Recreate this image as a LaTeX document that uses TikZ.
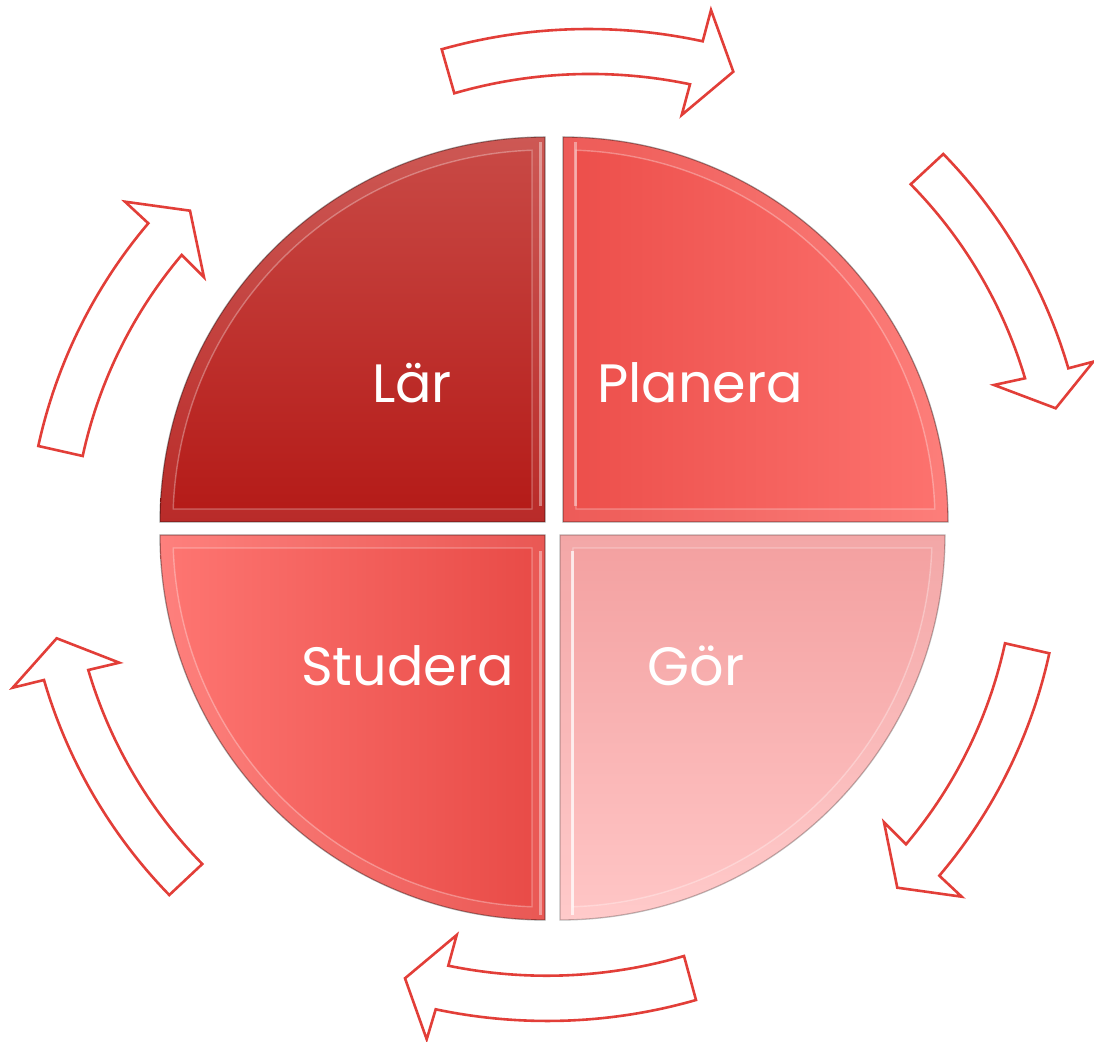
\documentclass[tikz,border=0pt]{standalone}
\usepackage{fontspec}
\setmainfont{Poppins}
\usetikzlibrary{calc}

\definecolor{arrowred}{RGB}{226,62,56}

% A quarter disc of radius 385 with a bevelled rim (inset 13).
% #1 centre, #2/#3 arc angles, #4 inset corner offset, #5 shading, #6 rim style
\newcommand\quarterdisc[6]{%
  \path[#5] (#1) -- ($(#1)+({#2}:385)$) arc[start angle=#2,end angle=#3,radius=385] -- cycle;
  \fill[white, fill opacity=.08, even odd rule]
     (#1) -- ($(#1)+({#2}:385)$) arc[start angle=#2,end angle=#3,radius=385] -- cycle
     ($(#1)+#4$) -- ($(#1)+({#2-2}:372)$) arc[start angle=#2-2,end angle=#3+2,radius=372] -- cycle;
  \draw[white, draw opacity=.3, line width=1.4pt]
     ($(#1)+#4$) -- ($(#1)+({#2-2}:372)$) arc[start angle=#2-2,end angle=#3+2,radius=372] -- cycle;
  \draw[#6]
     (#1) -- ($(#1)+({#2}:385)$) arc[start angle=#2,end angle=#3,radius=385] -- cycle;
}

% A curved block arrow: tail outer, shaft outer end, outer barb, tip,
% inner barb, shaft inner end, tail inner.  Both long sides are arcs
% bulging away from the disc.
\newcommand\cyclearrow[7]{%
  \draw[cyclearrow] #1 .. controls ($#1!.338!14:#2$) and ($#2!.338!-14:#1$) .. #2
    -- #3 -- #4 -- #5 -- #6
    .. controls ($#6!.338!-14:#7$) and ($#7!.338!14:#6$) .. #7 -- cycle;}

\begin{document}
\begin{tikzpicture}[x=1pt,y=1pt,
  cyclearrow/.style={draw=arrowred, fill=white, line width=2.6pt, line join=miter},
  quadtext/.style={text=white, font=\fontsize{54}{60}\selectfont, anchor=base, inner sep=0pt},
  rim/.style={draw=black, draw opacity=.35, line width=1.3pt},
  streak/.style={white, draw opacity=.4, line width=3pt},
]
\useasboundingbox (0,0) rectangle (1094,1041);

\coordinate (cTL) at (545,519);
\coordinate (cTR) at (563,519);
\coordinate (cBL) at (545,506);
\coordinate (cBR) at (560,506);

% the four quarters of the disc
\quarterdisc{cTL}{180}{90}{(-13,13)}
  {top color={rgb,255:red,201;green,74;blue,70}, middle color={rgb,255:red,198;green,42;blue,38}, bottom color={rgb,255:red,180;green,26;blue,23}}{rim}
\quarterdisc{cTR}{90}{0}{(13,13)}
  {left color={rgb,255:red,236;green,78;blue,74}, right color={rgb,255:red,253;green,115;blue,111}}{rim}
\quarterdisc{cBL}{-90}{-180}{(-13,-13)}
  {left color={rgb,255:red,254;green,118;blue,114}, right color={rgb,255:red,232;green,74;blue,70}}{rim}
\quarterdisc{cBR}{0}{-90}{(13,-13)}
  {top color={rgb,255:red,243;green,160;blue,160}, middle color={rgb,255:red,250;green,178;blue,178}, bottom color={rgb,255:red,255;green,198;blue,198}}{rim, draw opacity=.25}

% highlights along the straight inner edges
\draw[streak] ($(cTL)+(-5,16)$) -- ($(cTL)+(-5,380)$);
\draw[streak] ($(cTR)+(12,16)$) -- ($(cTR)+(12,380)$);
\draw[streak] ($(cBL)+(-5,-16)$) -- ($(cBL)+(-5,-380)$);
\draw[streak, draw opacity=.7] ($(cBR)+(12,-16)$) -- ($(cBR)+(12,-380)$);

% labels
\node[quadtext] (lar) at (412,638) {Lär};
\node[quadtext] (planera) at (700,638) {Planera};
\node[quadtext] (studera) at (407.5,355) {Studera};
\node[quadtext] (gor) at (696,355) {Gör};

% the six arrows running clockwise round the disc
\cyclearrow{(441.7,991.7)}{(702.7,999.7)}{(711,1031)}{(733.3,969.3)}{(681.7,926)}{(690,956.7)}{(454.3,947.7)}
\cyclearrow{(943.3,887)}{(1068.3,672.7)}{(1093.3,679.3)}{(1055.7,632.7)}{(994,656)}{(1025,662.7)}{(910.7,856.7)}
\cyclearrow{(1049.3,387.7)}{(939.3,165.3)}{(961.7,144.3)}{(897.3,153.3)}{(884,218.7)}{(906,196.7)}{(1005,397.7)}
\cyclearrow{(696,41)}{(435.7,31.7)}{(426.7,1.7)}{(405,62.7)}{(456.7,106)}{(448.3,75.3)}{(684,85)}
\cyclearrow{(169.3,146)}{(44,361)}{(12.7,353.3)}{(56.7,402.7)}{(119.3,378.3)}{(88.3,371)}{(202.3,177)}
\cyclearrow{(38.3,595)}{(148.3,817.7)}{(125,839.3)}{(190,830.3)}{(204,763.7)}{(181.7,786)}{(82.7,585)}
\end{tikzpicture}
\end{document}
